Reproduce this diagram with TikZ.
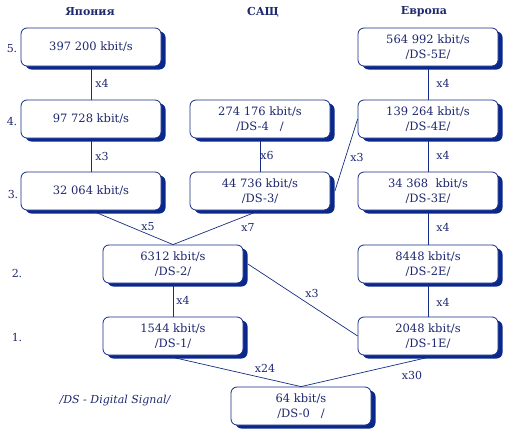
\documentclass[tikz,border=0pt]{standalone}
\usepackage{fontspec}
\setmainfont{DejaVu Serif}
\usetikzlibrary{shadows}
\definecolor{textc}{RGB}{30,40,110}
\definecolor{linec}{RGB}{20,45,130}
\definecolor{shadc}{RGB}{10,40,140}
\tikzset{
  box/.style={draw=linec, line width=0.8pt, fill=white, rounded corners=6pt,
    minimum width=140pt, minimum height=38pt, align=center, inner sep=0pt,
    text=textc, font=\fontsize{11.5}{15}\selectfont,
    drop shadow={shadow xshift=4.5pt, shadow yshift=-3.5pt, fill=shadc, opacity=1}},
  conn/.style={draw=linec, line width=0.7pt},
  mult/.style={text=textc, font=\fontsize{11}{13}\selectfont, inner sep=0pt},
  lvl/.style={text=textc, font=\fontsize{11}{13}\selectfont, inner sep=0pt},
  head/.style={text=textc, font=\bfseries\fontsize{11}{13}\selectfont, inner sep=0pt}
}
\begin{document}
\begin{tikzpicture}[x=1pt,y=-1pt]
\useasboundingbox (0,0) rectangle (510,436);
% headers
\node[head] (hj) at (90,12) {Япония};
\node[head] (hu) at (263,12) {САЩ};
\node[head] (he) at (424,12) {Европа};
% level labels
\node[lvl] (l5) at (12,49) {5.};
\node[lvl] (l4) at (12,121) {4.};
\node[lvl] (l3) at (13,194) {3.};
\node[lvl] (l2) at (17,273) {2.};
\node[lvl] (l1) at (17,337) {1.};
% boxes
\node[box] (j5) at (91,47) {397 200 kbit/s};
\node[box] (j4) at (91,119) {97 728 kbit/s};
\node[box] (j3) at (91,191) {32 064 kbit/s};
\node[box] (u4) at (260,119) {274 176 kbit/s\\/DS-4\ \ \ /};
\node[box] (u3) at (260,191) {44 736 kbit/s\\/DS-3/};
\node[box] (e5) at (428,47) {564 992 kbit/s\\/DS-5E/};
\node[box] (e4) at (428,119) {139 264 kbit/s\\/DS-4E/};
\node[box] (e3) at (428,191) {34 368\ \ kbit/s\\/DS-3E/};
\node[box] (e2) at (428,264) {8448 kbit/s\\/DS-2E/};
\node[box] (e1) at (428,336) {2048 kbit/s\\/DS-1E/};
\node[box] (m2) at (173,264) {6312 kbit/s\\/DS-2/};
\node[box] (m1) at (173,336) {1544 kbit/s\\/DS-1/};
\node[box] (d0) at (301,406) {64 kbit/s\\/DS-0\ \ \ /};
% connectors
\draw[conn] (j5) -- (j4);
\draw[conn] (j4) -- (j3);
\draw[conn] (u4) -- (u3);
\draw[conn] (e5) -- (e4);
\draw[conn] (e4) -- (e3);
\draw[conn] (e3) -- (e2);
\draw[conn] (e2) -- (e1);
\draw[conn] (m2) -- (m1);
\draw[conn] (j3.south) -- (m2.north);
\draw[conn] (u3.south) -- (m2.north);
\draw[conn] ([xshift=4.5pt]u3.east) -- (e4.west);
\draw[conn] ([xshift=4.5pt]m2.east) -- (e1.west);
\draw[conn] ([yshift=-2pt]m1.south) -- (d0.north);
\draw[conn] ([yshift=-2pt]e1.south) -- (d0.north);
% multiplier labels
\node[mult] (x1) at (102,83) {x4};
\node[mult] (x2) at (102,156) {x3};
\node[mult] (x3) at (267,155) {x6};
\node[mult] (x4) at (357,157) {x3};
\node[mult] (x5) at (443,83) {x4};
\node[mult] (x6) at (443,155) {x4};
\node[mult] (x7) at (443,227) {x4};
\node[mult] (x8) at (443,302) {x4};
\node[mult] (x9) at (148,227) {x5};
\node[mult] (x10) at (248,227) {x7};
\node[mult] (x11) at (312,293) {x3};
\node[mult] (x12) at (183,300) {x4};
\node[mult] (x13) at (265,368) {x24};
\node[mult] (x14) at (412,375) {x30};
% note
\node[mult, font=\itshape\fontsize{11}{13}\selectfont] (note) at (115,401) {/DS - Digital Signal/};
\end{tikzpicture}
\end{document}
